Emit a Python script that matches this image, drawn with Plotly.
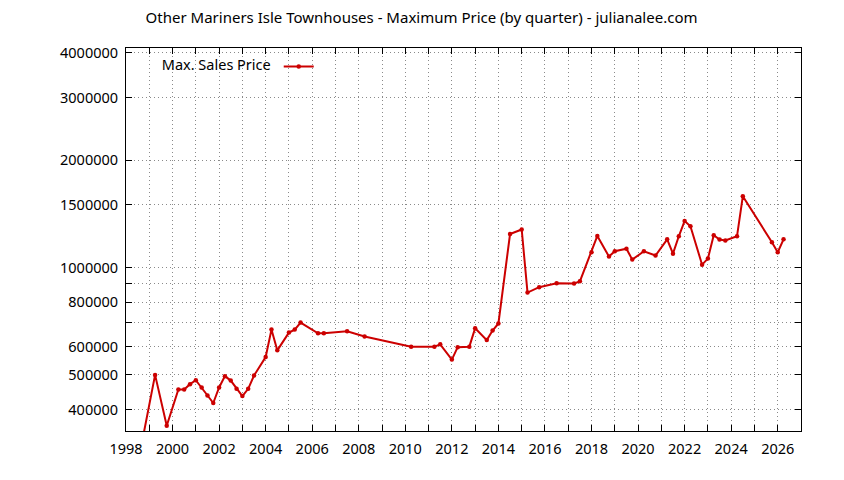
import plotly.graph_objects as go

# quarterly max prices
quarters = [
    1998.5, 1999.25, 1999.75, 2000.25, 2000.5, 2000.75, 2001.0, 2001.25,
    2001.5, 2001.75, 2002.0, 2002.25, 2002.5, 2002.75, 2003.0, 2003.25,
    2003.5, 2004.0, 2004.25, 2004.5, 2005.0, 2005.25, 2005.5, 2006.25,
    2006.5, 2007.5, 2008.25, 2010.25, 2011.25, 2011.5, 2012.0, 2012.25,
    2012.75, 2013.0, 2013.5, 2013.75, 2014.0, 2014.5, 2015.0, 2015.25,
    2015.75, 2016.5, 2017.25, 2017.5, 2018.0, 2018.25, 2018.75, 2019.0,
    2019.5, 2019.75, 2020.25, 2020.75, 2021.25, 2021.5, 2021.75, 2022.0,
    2022.25, 2022.75, 2023.0, 2023.25, 2023.5, 2023.75, 2024.25, 2024.5,
    2025.75, 2026.0, 2026.25,
]
max_price = [
    280000, 500000, 360000, 455000, 455000, 471000, 483000, 461000,
    438000, 417000, 461000, 496000, 482000, 457000, 436000, 457000,
    498000, 561000, 670000, 586000, 657000, 670000, 701000, 654000,
    654000, 663000, 641000, 600000, 600000, 609000, 552000, 598000,
    600000, 676000, 626000, 666000, 697000, 1242000, 1279000, 851000,
    881000, 904000, 903000, 915000, 1104000, 1227000, 1074000, 1111000,
    1130000, 1053000, 1111000, 1081000, 1200000, 1094000, 1224000, 1352000,
    1306000, 1019000, 1060000, 1232000, 1199000, 1191000, 1224000, 1585000,
    1178000, 1104000, 1200000,
]

y_ticks = [400000, 500000, 600000, 700000, 800000, 900000, 1000000,
           1500000, 2000000, 3000000, 4000000]
y_labels = ["400000", "500000", "600000", "", "800000", "", "1000000",
            "1500000", "2000000", "3000000", "4000000"]
x_ticks = list(range(1998, 2028))
x_labels = [str(v) if v % 2 == 0 else "" for v in x_ticks]

RED = "#cc0000"
FONT = "Noto Sans"

fig = go.Figure()

fig.add_trace(go.Scatter(
    x=quarters,
    y=max_price,
    mode="lines+markers",
    name=" ",
    line=dict(color=RED, width=2),
    marker=dict(color=RED, size=4.5, symbol="circle"),
))

axis_common = dict(
    showline=True,
    linecolor="black",
    linewidth=1,
    mirror="ticks",
    ticks="inside",
    ticklen=6,
    tickcolor="black",
    showgrid=True,
    gridcolor="#8a8a8a",
    griddash="1px,3px",
    gridwidth=1,
    zeroline=False,
    tickfont=dict(family=FONT, size=14.5, color="black"),
)

# page body has an 8px margin, so the plot box is offset by that
fig.update_layout(
    width=844,
    height=480,
    paper_bgcolor="white",
    plot_bgcolor="white",
    margin=dict(l=118, r=51, t=40, b=57),
    title=dict(
        text="Other Mariners Isle Townhouses - Maximum Price (by quarter) - julianalee.com",
        x=0.49,
        xanchor="center",
        y=0.979,
        yanchor="middle",
        font=dict(family=FONT, size=15, color="black"),
    ),
    showlegend=True,
    legend=dict(
        title=dict(text="Max. Sales Price", side="left",
                   font=dict(family=FONT, size=14.5, color="black")),
        x=0.05,
        y=0.993,
        xanchor="left",
        yanchor="top",
        bgcolor="rgba(0,0,0,0)",
        font=dict(family=FONT, size=14.5),
    ),
    xaxis=dict(
        axis_common,
        range=[1998, 2027],
        tickmode="array",
        tickvals=x_ticks,
        ticktext=x_labels,
        ticklabelstandoff=5,
    ),
    yaxis=dict(
        axis_common,
        type="log",
        range=[5.5416, 6.6160],
        tickmode="array",
        tickvals=y_ticks,
        ticktext=y_labels,
        ticklabelstandoff=4,
    ),
)

fig.write_html("out.html")
